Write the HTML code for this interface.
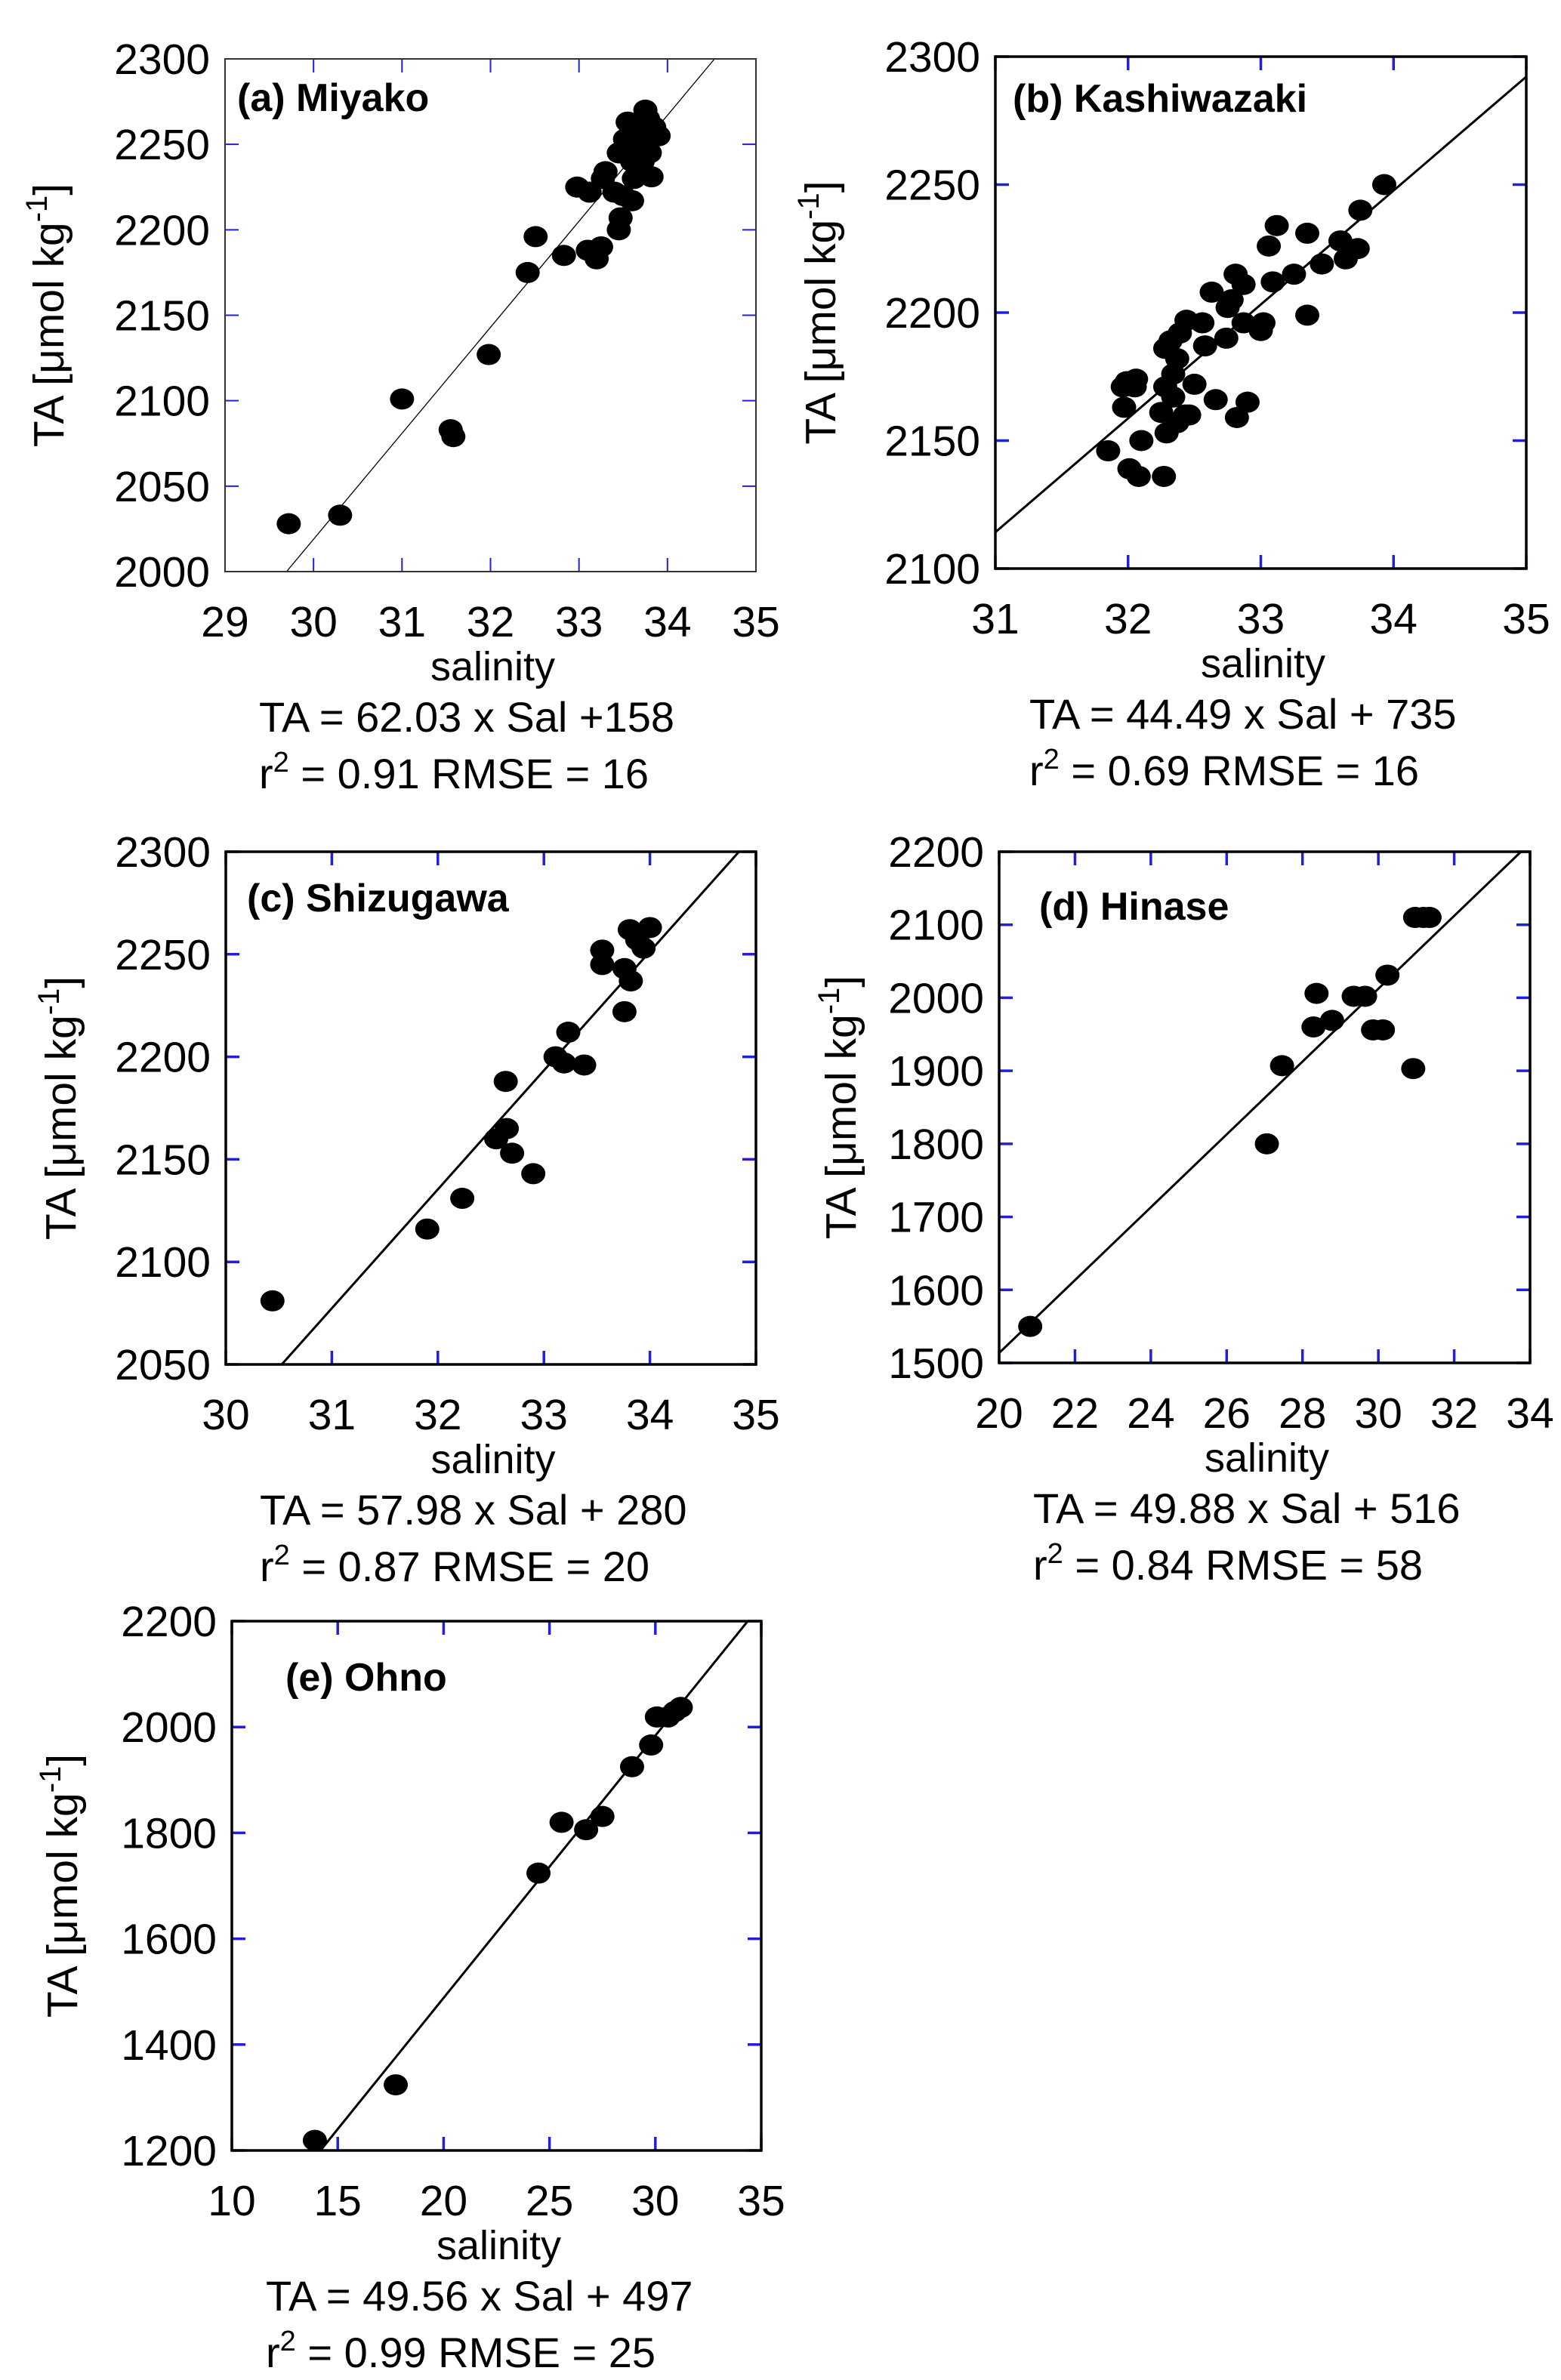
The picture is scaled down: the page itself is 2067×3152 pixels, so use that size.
<!DOCTYPE html>
<html><head><meta charset="utf-8"><style>
html,body{margin:0;padding:0;background:#fff;}
svg{display:block;font-family:"Liberation Sans",Arial,sans-serif;}
</style></head><body>
<svg id="fig" width="2067" height="3152" viewBox="0 0 2067 3152" xmlns="http://www.w3.org/2000/svg"></svg>
<script>
// Panel (a) Miyako
const aSal=[29.72,30.3,31.0,31.55,31.58,31.98,32.42,32.51,32.83,32.98,33.12,33.1,33.2,33.25,33.27,33.3,33.4,33.45,33.45,33.47,33.5,33.52,33.55,33.6,33.6,33.62,33.65,33.7,33.7,33.75,33.78,33.8,33.8,33.82,33.85,33.9,33.6,33.68,33.72];
const aTA=[2028,2033,2101,2083,2079,2127,2175,2196,2185,2225,2222,2188,2183,2190,2230,2234,2222,2245,2200,2207,2220,2253,2263,2217,2240,2230,2255,2248,2235,2270,2265,2258,2245,2231,2260,2255,2250,2260,2240];
// Panel (b) Kashiwazaki
const bSal=[33.93,33.75,33.12,33.35,33.06,33.6,33.73,33.64,33.46,33.25,33.09,32.81,32.87,32.63,32.78,32.75,33.35,33.02,33.0,32.87,32.44,32.56,32.39,32.58,32.74,32.32,32.28,32.37,32.34,32.5,31.99,32.06,31.96,32.05,32.28,31.97,32.25,32.34,32.46,32.37,32.29,32.66,32.9,32.82,32.1,31.85,32.01,32.08,32.27,32.43];
const bTA=[2250,2240,2234,2231,2226,2228,2225,2221,2219,2215,2212,2215,2211,2208,2205,2202,2199,2196,2193,2196,2197,2196,2192,2187,2190,2189,2186,2182,2176,2172,2173,2174,2171,2171,2171,2163,2161,2167,2160,2157,2153,2166,2165,2159,2150,2146,2139,2136,2136,2160];
// Panel (c) Shizugawa
const cSal=[30.44,31.9,32.23,32.64,32.55,32.65,32.7,32.9,33.11,33.19,33.23,33.38,33.55,33.55,33.76,33.82,33.76,33.81,33.88,33.94,34.0];
const cTA=[2081,2116,2131,2188,2160,2165,2153,2143,2200,2197,2212,2196,2252,2245,2243,2237,2222,2262,2257,2253,2263];
// Panel (d) Hinase
const dSal=[20.82,27.06,27.46,28.29,28.37,28.78,29.35,29.65,29.86,30.12,30.24,30.92,30.97,31.19,31.35];
const dTA=[1550,1800,1907,1960,2006,1969,2002,2002,1956,1956,2031,1903,2110,2110,2110];
// Panel (e) Ohno
const eSal=[13.92,17.74,24.48,25.57,26.73,27.5,28.9,29.8,30.07,30.6,30.91,31.2];
const eTA=[1219,1324,1724,1820,1806,1831,1925,1966,2019,2019,2029,2037];
// Axis ticks
const aXT=[29,30,31,32,33,34,35], aYT=[2000,2050,2100,2150,2200,2250,2300];
const bXT=[31,32,33,34,35], bYT=[2100,2150,2200,2250,2300];
const cXT=[30,31,32,33,34,35], cYT=[2050,2100,2150,2200,2250,2300];
const dXT=[20,22,24,26,28,30,32,34], dYT=[1500,1600,1700,1800,1900,2000,2100,2200];
const eXT=[10,15,20,25,30,35], eYT=[1200,1400,1600,1800,2000,2200];
// Regression coefficients
const aFit=[62.03,158], bFit=[44.49,735], cFit=[57.98,280], dFit=[49.88,516], eFit=[49.56,497];

const NS="http://www.w3.org/2000/svg";
const svg=document.getElementById('fig');
function mk(tag,attrs,parent,text){const e=document.createElementNS(NS,tag);for(const k in attrs)e.setAttribute(k,attrs[k]);if(text!==undefined)e.textContent=text;parent.appendChild(e);return e;}

function panel(o){
  const g=mk('g',{},svg);
  
  
  const xs=v=>o.L+(v-o.xt[0])/(o.xt[o.xt.length-1]-o.xt[0])*(o.R-o.L);
  const ys=v=>o.B-(v-o.yt[0])/(o.yt[o.yt.length-1]-o.yt[0])*(o.B-o.T);
  const x0=o.xt[0],x1=o.xt[o.xt.length-1],y0=o.yt[0],y1=o.yt[o.yt.length-1];
  const tk=mk('g',{stroke:'#2020d8','stroke-width':o.thin?2:3.5},g);
  
  
  o.xt.forEach(v=>{const x=xs(v);mk('line',{x1:x,y1:o.B,x2:x,y2:o.B-18},tk);mk('line',{x1:x,y1:o.T,x2:x,y2:o.T+18},tk);});
  o.yt.forEach(v=>{const y=ys(v);mk('line',{x1:o.L,y1:y,x2:o.L+18,y2:y},tk);mk('line',{x1:o.R,y1:y,x2:o.R-18,y2:y},tk);});
  const [m,b]=o.fit;
  let sa=x0,sb=x1,ta=m*sa+b,tb=m*sb+b;
  if(ta<y0){sa=(y0-b)/m;ta=y0;} if(tb>y1){sb=(y1-b)/m;tb=y1;}
  const ln=mk('line',{x1:xs(sa),y1:ys(ta),x2:xs(sb),y2:ys(tb),stroke:'#000','stroke-width':o.thin?1.3:3},g);
  
  
  o.sal.forEach((s,i)=>{const c=mk('ellipse',{cx:xs(s),cy:ys(o.ta[i]),rx:16,ry:14,fill:'#000'},g);
    
    });
  const fr=mk('rect',{x:o.L,y:o.T,width:o.R-o.L,height:o.B-o.T,fill:'none',stroke:o.thin?'#333':'#000','stroke-width':o.thin?2:3.5},g);
  
  
  o.xt.forEach(v=>{const t=mk('text',{x:xs(v),y:o.B+86,'font-size':57,'text-anchor':'middle'},g,String(v));
    
    });
  o.yt.forEach(v=>{const t=mk('text',{x:o.L-20,y:ys(v)+20,'font-size':57,'text-anchor':'end'},g,String(v));
    
    });
  const xt=mk('text',{x:(o.L+o.R)/2+3,y:o.B+144,'font-size':54,'text-anchor':'middle'},g,'salinity');
  
  
  const cy=(o.T+o.B)/2;
  const yt=mk('text',{x:0,y:0,'font-size':57,'text-anchor':'middle',transform:`translate(${o.yx},${cy}) rotate(-90)`},g);
  
  
  mk('tspan',{},yt,'TA [\u03bcmol kg');
  mk('tspan',{dy:-22,'font-size':40},yt,'-1');
  mk('tspan',{dy:22},yt,']');
  const pt=mk('text',{x:o.L+o.tx,y:o.T+o.ty,'font-size':52,'font-weight':'bold'},g,o.title);
  
  
  const e1=mk('text',{x:o.L+45,y:o.B+212,'font-size':56},g,o.eq);
  
  
  const e2=mk('text',{x:o.L+45,y:o.B+287,'font-size':56},g);
  
  
  mk('tspan',{},e2,'r');
  mk('tspan',{dy:-22,'font-size':38},e2,'2');
  mk('tspan',{dy:22},e2,' = '+o.stat);
}
panel({id:'a',L:298,R:1001,T:78,B:757,xt:aXT,yt:aYT,sal:aSal,ta:aTA,fit:aFit,thin:true,yx:84,tx:16,ty:69,title:'(a) Miyako',eq:'TA = 62.03 x Sal +158',stat:'0.91 RMSE = 16'});
panel({id:'b',L:1318,R:2021,T:75,B:753,xt:bXT,yt:bYT,sal:bSal,ta:bTA,fit:bFit,yx:1106,tx:23,ty:73,title:'(b) Kashiwazaki',eq:'TA = 44.49 x Sal + 735',stat:'0.69 RMSE = 16'});
panel({id:'c',L:299,R:1001,T:1128,B:1807,xt:cXT,yt:cYT,sal:cSal,ta:cTA,fit:cFit,yx:100,tx:28,ty:79,title:'(c) Shizugawa',eq:'TA = 57.98 x Sal + 280',stat:'0.87 RMSE = 20'});
panel({id:'d',L:1323,R:2026,T:1128,B:1805,xt:dXT,yt:dYT,sal:dSal,ta:dTA,fit:dFit,yx:1133,tx:53,ty:90,title:'(d) Hinase',eq:'TA = 49.88 x Sal + 516',stat:'0.84 RMSE = 58'});
panel({id:'e',L:307,R:1008,T:2147,B:2848,xt:eXT,yt:eYT,sal:eSal,ta:eTA,fit:eFit,yx:102,tx:71,ty:92,title:'(e) Ohno',eq:'TA = 49.56 x Sal + 497',stat:'0.99 RMSE = 25'});
</script>
</body></html>
